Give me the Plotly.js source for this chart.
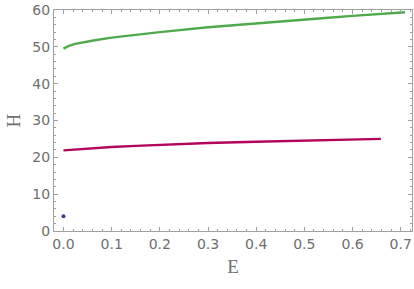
<!DOCTYPE html>
<html>
<head>
<meta charset="utf-8">
<script src="https://cdn.plot.ly/plotly-3.0.1.min.js"></script>
<style>html,body{margin:0;padding:0;background:#fff;}#chart{width:414px;height:289px;}</style>
</head>
<body>
<div id="chart"></div>
<script>
// Green branch
const greenE = [0.0, 0.005, 0.01, 0.024, 0.045, 0.065, 0.1, 0.15, 0.2, 0.3, 0.4, 0.47, 0.55, 0.6, 0.65, 0.709];
const greenH = [49.5, 49.9, 50.2, 50.8, 51.35, 51.8, 52.5, 53.3, 54.0, 55.3, 56.4, 57.2, 57.9, 58.4, 58.9, 59.4];
// Red branch
const redE = [0.0, 0.03, 0.065, 0.1, 0.15, 0.2, 0.3, 0.4, 0.47, 0.55, 0.6, 0.659];
const redH = [21.9, 22.2, 22.5, 22.8, 23.1, 23.4, 23.9, 24.25, 24.47, 24.68, 24.82, 25.0];
// Isolated point
const dotE = [0.0];
const dotH = [4.0];

const traces = [
  {x: greenE, y: greenH, type: 'scatter', mode: 'lines', line: {color: '#4FAA4C', width: 2.4}, hoverinfo: 'none'},
  {x: redE, y: redH, type: 'scatter', mode: 'lines', line: {color: '#B2055B', width: 2.4}, hoverinfo: 'none'},
  {x: dotE, y: dotH, type: 'scatter', mode: 'markers', marker: {color: '#3B3B98', size: 4}, hoverinfo: 'none'}
];

const axisCommon = {
  showgrid: false, zeroline: false, showline: true, linecolor: '#A0A0A0', linewidth: 1,
  mirror: 'ticks', ticks: 'inside', ticklen: 4, tickcolor: '#A0A0A0', tickwidth: 1,
  tickfont: {family: 'DejaVu Sans', size: 14, color: '#6E6E6E'}
};

const layout = {
  width: 414, height: 289,
  margin: {l: 54, r: 2, t: 10, b: 58},
  paper_bgcolor: '#fff', plot_bgcolor: '#fff',
  showlegend: false,
  xaxis: Object.assign({}, axisCommon, {
    range: [-0.0197, 0.7235], dtick: 0.1, tick0: 0, tickformat: '.1f',
    minor: {dtick: 0.02, ticks: 'inside', ticklen: 2, tickcolor: '#A0A0A0'},
    title: {text: 'E', font: {family: 'Liberation Serif', size: 19, color: '#707070'}, standoff: 8}
  }),
  yaxis: Object.assign({}, axisCommon, {
    range: [0, 60], dtick: 10, tick0: 0,
    minor: {dtick: 2, ticks: 'inside', ticklen: 2, tickcolor: '#A0A0A0'},
    title: {text: 'H', font: {family: 'Liberation Serif', size: 19, color: '#707070'}, standoff: 6}
  })
};

Plotly.newPlot('chart', traces, layout, {staticPlot: true, displayModeBar: false});
</script>
</body>
</html>
